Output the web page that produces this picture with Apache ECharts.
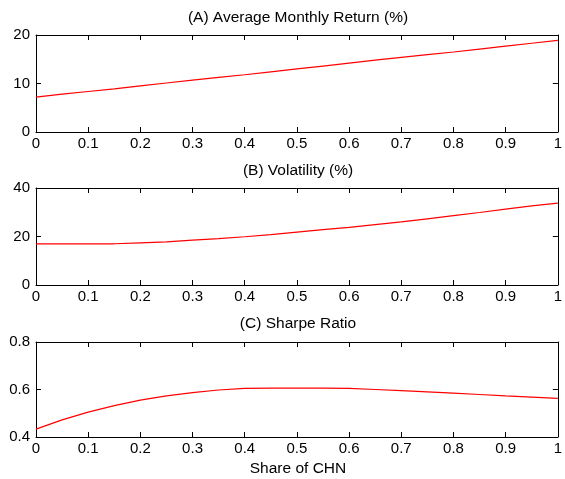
<!DOCTYPE html>
<html><head><meta charset="utf-8">
<script src="https://cdn.jsdelivr.net/npm/echarts@6/dist/echarts.min.js"></script>
<style>html,body{margin:0;padding:0;background:#fff}#c{width:565px;height:479px}</style>
</head><body><div id="c"></div>
<script>
const shares = [0,0.05,0.1,0.15,0.2,0.25,0.3,0.35,0.4,0.45,0.5,0.55,0.6,0.65,0.7,0.75,0.8,0.85,0.9,0.95,1];
const avgReturn = [7.2,7.8,8.35,8.9,9.5,10.1,10.7,11.25,11.8,12.4,13.0,13.6,14.2,14.8,15.4,15.95,16.5,17.1,17.7,18.3,18.9];
const volatility = [17.0,17.0,17.0,17.0,17.4,17.8,18.5,19.1,19.9,20.8,21.8,22.8,23.8,24.9,26.0,27.3,28.6,29.9,31.3,32.6,33.8];
const sharpe = [0.433,0.472,0.505,0.532,0.555,0.573,0.587,0.598,0.605,0.606,0.606,0.606,0.605,0.600,0.595,0.590,0.585,0.579,0.573,0.568,0.563];
const titles = ['(A) Average Monthly Return (%)','(B) Volatility (%)','(C) Sharpe Ratio'];
const xLabel = 'Share of CHN';
const yRanges = [[0,20,10],[0,40,20],[0.4,0.8,0.2]];

const FONT = 'Liberation Sans, Arial, sans-serif';
const FS = 15;
const TFS = 15.5;
const grids = [
  {left:36, right:5, top:35, height:97},
  {left:36, right:5, top:188, height:97},
  {left:36, right:5, top:342, height:95}
];
const series = [avgReturn, volatility, sharpe];
const xAxis = [], yAxis = [], ser = [];
const line = {show:true, onZero:false, lineStyle:{color:'#000', width:1}};
const tick = {show:true, inside:true, length:5, lineStyle:{color:'#000', width:1}};
grids.forEach((g,i)=>{
  xAxis.push({type:'value', gridIndex:i, min:0, max:1, interval:0.1, position:'bottom',
    axisLine:line, splitLine:{show:false}, axisTick:tick,
    axisLabel:{color:'#000', fontFamily:FONT, fontSize:FS, margin:4}});
  xAxis.push({type:'value', gridIndex:i, min:0, max:1, interval:0.1, position:'top',
    axisLine:line, splitLine:{show:false}, axisTick:tick,
    axisLabel:{show:false}});
  const r = yRanges[i];
  yAxis.push({type:'value', gridIndex:i, min:r[0], max:r[1], interval:r[2], position:'left',
    axisLine:line, splitLine:{show:false}, axisTick:tick,
    axisLabel:{color:'#000', fontFamily:FONT, fontSize:FS, margin:6}});
  yAxis.push({type:'value', gridIndex:i, min:r[0], max:r[1], interval:r[2], position:'right',
    axisLine:line, splitLine:{show:false}, axisTick:tick,
    axisLabel:{show:false}});
  ser.push({type:'line', xAxisIndex:2*i, yAxisIndex:2*i, showSymbol:false, silent:true,
    lineStyle:{color:'#ff0000', width:1.2}, data: shares.map((s,k)=>[s, series[i][k]])});
});
const chart = echarts.init(document.getElementById('c'), null, {renderer:'canvas'});
chart.setOption({
  animation:false,
  grid: grids,
  xAxis, yAxis, series: ser,
  graphic: [
    {type:'text', x:298, y:18, style:{text:titles[0], font:TFS+'px '+FONT, fill:'#000', textAlign:'center', textVerticalAlign:'middle'}},
    {type:'text', x:298, y:171, style:{text:titles[1], font:TFS+'px '+FONT, fill:'#000', textAlign:'center', textVerticalAlign:'middle'}},
    {type:'text', x:298, y:324, style:{text:titles[2], font:TFS+'px '+FONT, fill:'#000', textAlign:'center', textVerticalAlign:'middle'}},
    {type:'text', x:298, y:469, style:{text:xLabel, font:TFS+'px '+FONT, fill:'#000', textAlign:'center', textVerticalAlign:'middle'}}
  ]
});
</script></body></html>
